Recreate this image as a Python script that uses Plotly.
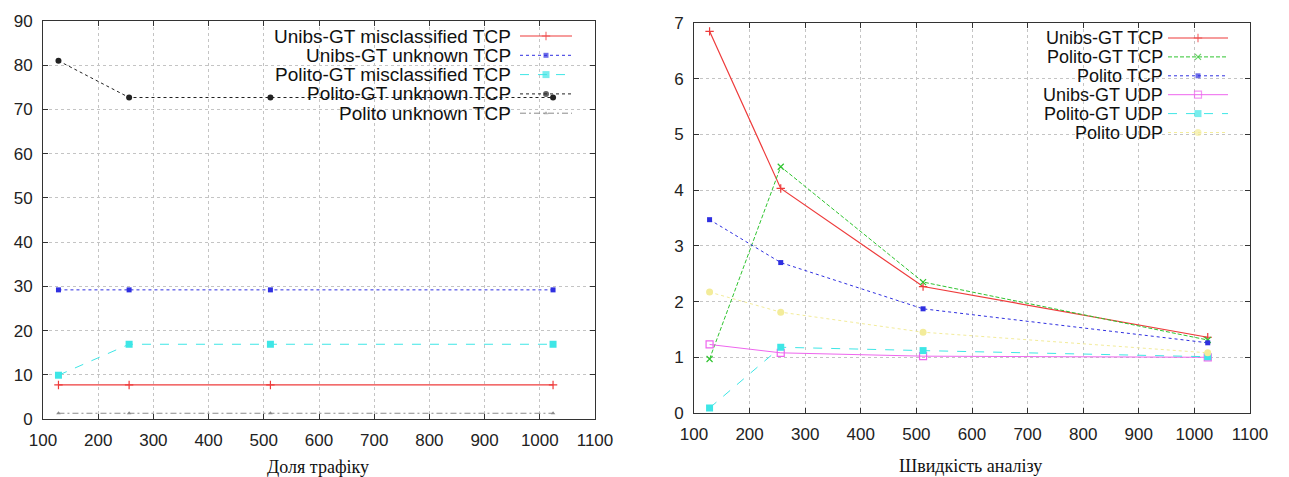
import plotly.graph_objects as go

# page body has an 8px margin: the figure paper covers reference pixels [8, 1289] x [8, 477]
OFF = 8
W, H = 1289, 477
FW, FH = W - OFF, H - OFF

# ---------------- data ----------------
x_vals = [128, 256, 512, 1024]

# left chart (share of traffic)
left_names = ["Unibs-GT misclassified TCP", "Unibs-GT unknown TCP",
              "Polito-GT misclassified TCP", "Polito-GT unknown TCP",
              "Polito unknown TCP"]
unibs_gt_miscl_tcp = [7.7, 7.7, 7.7, 7.7]
unibs_gt_unknown_tcp = [29.2, 29.2, 29.2, 29.2]
polito_gt_miscl_tcp = [9.9, 16.9, 16.9, 16.9]
polito_gt_unknown_tcp = [81.0, 72.7, 72.7, 72.7]
polito_unknown_tcp = [1.3, 1.3, 1.3, 1.3]

# right chart (analysis speed)
right_names = ["Unibs-GT TCP", "Polito-GT TCP", "Polito TCP",
               "Unibs-GT UDP", "Polito-GT UDP", "Polito UDP"]
unibs_gt_tcp = [6.85, 4.03, 2.27, 1.36]
polito_gt_tcp = [0.97, 4.42, 2.35, 1.31]
polito_tcp = [3.47, 2.70, 1.87, 1.26]
unibs_gt_udp = [1.23, 1.08, 1.02, 1.00]
polito_gt_udp = [0.09, 1.18, 1.12, 1.01]
polito_udp = [2.17, 1.81, 1.45, 1.08]

x_ticks = [100, 200, 300, 400, 500, 600, 700, 800, 900, 1000, 1100]
left_y_ticks = [0, 10, 20, 30, 40, 50, 60, 70, 80, 90]
right_y_ticks = [0, 1, 2, 3, 4, 5, 6, 7]
left_title = "Доля трафіку"
right_title = "Швидкість аналізу"

# ---------------- styles ----------------
left_styles = [
    dict(color="#ee3b3b", dash="solid", symbol="cross-thin", size=6, width=1.2),
    dict(color="#2f2fe0", dash="dot", symbol="square", size=5, width=1),
    dict(color="#3ee6e6", dash="dash", symbol="square", size=7, width=1),
    dict(color="#222222", dash="3px,3px", symbol="circle", size=6, width=1),
    dict(color="#8a8a8a", dash="6px,3px,2px,3px", symbol="triangle-up", size=4, width=1),
]
right_styles = [
    dict(color="#ee3b3b", dash="solid", symbol="cross-thin", size=6, width=1.2),
    dict(color="#2fc42f", dash="4px,2px", symbol="x-thin", size=6, width=1),
    dict(color="#2f2fe0", dash="dot", symbol="square", size=5, width=1),
    dict(color="#ee66ee", dash="solid", symbol="square-open", size=7, width=1),
    dict(color="#3ee6e6", dash="dash", symbol="square", size=7, width=1),
    dict(color="#f3ec9a", dash="dot", symbol="circle", size=7, width=1),
]

fig = go.Figure()


def add_series(xa, ya, ys, st, name):
    sym = st["symbol"]
    thin = "thin" in sym or "open" in sym
    fig.add_trace(go.Scatter(
        x=x_vals, y=ys, mode="lines+markers", name=name, showlegend=False,
        xaxis=xa, yaxis=ya,
        line=dict(color=st["color"], width=st["width"], dash=st["dash"]),
        marker=dict(symbol=sym, size=st["size"], color=st["color"],
                    line=dict(color=st["color"], width=1.2 if thin else 0)),
    ))


left_data = [unibs_gt_miscl_tcp, unibs_gt_unknown_tcp, polito_gt_miscl_tcp,
             polito_gt_unknown_tcp, polito_unknown_tcp]
right_data = [unibs_gt_tcp, polito_gt_tcp, polito_tcp, unibs_gt_udp,
              polito_gt_udp, polito_udp]

for ys, st, nm in zip(left_data, left_styles, left_names):
    add_series("x", "y", ys, st, nm)
for ys, st, nm in zip(right_data, right_styles, right_names):
    add_series("x2", "y2", ys, st, nm)

# ---------------- gnuplot-style keys (pixel overlay axes) ----------------
FONT = "Liberation Sans, Arial, sans-serif"
annotations = []


def add_key(names, styles, text_right, x0, x1, y0, dy, fsize):
    for i, (nm, st) in enumerate(zip(names, styles)):
        yy = y0 + i * dy
        annotations.append(dict(
            x=text_right, y=yy, xref="x3", yref="y3", text=nm, showarrow=False,
            xanchor="right", yanchor="middle", borderpad=0,
            font=dict(family=FONT, size=fsize, color="#111")))
        sym = st["symbol"]
        thin = "thin" in sym or "open" in sym
        fig.add_trace(go.Scatter(
            x=[x0, (x0 + x1) / 2, x1], y=[yy, yy, yy], mode="lines+markers",
            showlegend=False, xaxis="x3", yaxis="y3", hoverinfo="skip",
            line=dict(color=st["color"], width=st["width"], dash=st["dash"]),
            marker=dict(symbol=sym, size=[0, st["size"], 0], color=st["color"],
                        line=dict(color=st["color"], width=1.2 if thin else 0)),
        ))


add_key(left_names, left_styles, 512, 520, 572, 36, 19.3, 19)
add_key(right_names, right_styles, 1164, 1168, 1228, 38, 18.9, 18)

# axis titles
SERIF = "Liberation Serif, Times New Roman, serif"
annotations.append(dict(x=318, y=467, xref="x3", yref="y3", text=left_title,
                        showarrow=False, xanchor="center", yanchor="middle",
                        borderpad=0, font=dict(family=SERIF, size=18, color="#111")))
annotations.append(dict(x=970, y=466, xref="x3", yref="y3", text=right_title,
                        showarrow=False, xanchor="center", yanchor="middle",
                        borderpad=0, font=dict(family=SERIF, size=18, color="#111")))

# ---------------- axes ----------------
common = dict(showline=True, linecolor="#333", linewidth=1, mirror="ticks",
              ticks="inside", ticklen=5, tickcolor="#333", tickwidth=1,
              showgrid=True, gridcolor="#c4c4c4", griddash="dot", gridwidth=1,
              zeroline=False, automargin=False,
              tickfont=dict(family=FONT, size=17, color="#222"))


def xdom(a, b):
    return [(a - OFF) / FW, (b - OFF) / FW]


def ydom(top, bottom):
    return [(H - bottom) / FH, (H - top) / FH]


fig.update_layout(
    width=FW, height=FH, margin=dict(l=0, r=0, t=0, b=0, pad=0),
    paper_bgcolor="white", plot_bgcolor="rgba(0,0,0,0)", showlegend=False,
    xaxis=dict(domain=xdom(43, 595), anchor="y", range=[100, 1100],
               tickvals=x_ticks, ticklabelstandoff=6, **common),
    yaxis=dict(domain=ydom(21, 419), anchor="x", range=[0, 90],
               tickvals=left_y_ticks, ticklabelstandoff=6, **common),
    xaxis2=dict(domain=xdom(694, 1250), anchor="y2", range=[100, 1100],
                tickvals=x_ticks, ticklabelstandoff=6, **common),
    yaxis2=dict(domain=ydom(23, 413), anchor="x2", range=[0, 7],
                tickvals=right_y_ticks, ticklabelstandoff=6, **common),
    xaxis3=dict(domain=[0, 1], range=[OFF, W], visible=False, anchor="y3",
                fixedrange=True, automargin=False),
    yaxis3=dict(domain=[0, 1], range=[H, OFF], visible=False, anchor="x3",
                fixedrange=True, automargin=False),
    annotations=annotations,
)

fig.write_html("out.html")
